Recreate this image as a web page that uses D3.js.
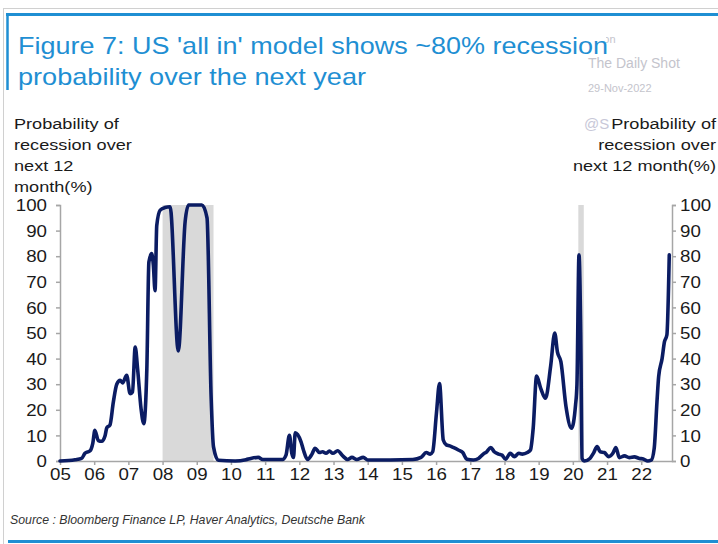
<!DOCTYPE html>
<html>
<head>
<meta charset="utf-8">
<script src="https://cdn.jsdelivr.net/npm/d3@7/dist/d3.min.js"></script>
<style>
  html, body { margin: 0; padding: 0; background: #fff; }
  svg { display: block; }
  text { font-family: "Liberation Sans", Arial, Helvetica, sans-serif; }
</style>
</head>
<body>
<script>
// Model output: decimal year and recession probability (%)
const dates = [
  2005.00, 2005.44, 2005.63, 2005.73, 2005.88, 2005.96, 2006.02, 2006.12, 2006.22, 2006.32,
  2006.37, 2006.46, 2006.56, 2006.66, 2006.76, 2006.83, 2006.95, 2007.05, 2007.12, 2007.20,
  2007.27, 2007.37, 2007.45, 2007.54, 2007.60, 2007.68, 2007.73, 2007.78, 2007.83, 2007.93,
  2008.07, 2008.22, 2008.46, 2008.66, 2008.76, 2009.15, 2009.30, 2009.42, 2009.49, 2009.63,
  2010.12, 2010.44, 2010.58, 2010.80, 2010.93, 2011.51, 2011.61, 2011.71, 2011.78, 2011.83,
  2011.88, 2012.05, 2012.12, 2012.24, 2012.37, 2012.46, 2012.59, 2012.68, 2012.78, 2012.88,
  2012.98, 2013.12, 2013.27, 2013.41, 2013.54, 2013.68, 2013.87, 2014.00, 2015.32, 2015.56,
  2015.71, 2015.83, 2015.90, 2016.01, 2016.10, 2016.21, 2016.30, 2016.40, 2016.50, 2016.65,
  2016.78, 2016.90, 2017.09, 2017.24, 2017.38, 2017.48, 2017.60, 2017.70, 2017.83, 2017.93,
  2018.03, 2018.17, 2018.29, 2018.42, 2018.52, 2018.67, 2018.76, 2018.84, 2018.94, 2019.06,
  2019.20, 2019.35, 2019.47, 2019.55, 2019.65, 2019.80, 2019.96, 2020.08, 2020.12, 2020.18,
  2020.23, 2020.27, 2020.34, 2020.50, 2020.60, 2020.71, 2020.80, 2020.92, 2021.05, 2021.17,
  2021.26, 2021.36, 2021.51, 2021.65, 2021.80, 2021.95, 2022.06, 2022.19, 2022.29, 2022.38,
  2022.46, 2022.51, 2022.61, 2022.68, 2022.75, 2022.82
];
const probability = [
  0, 0.5, 1, 3, 4, 7, 12, 8, 7.7, 10,
  13, 14, 23, 30, 31.5, 30.5, 33.5, 26.3, 27, 44.5,
  36, 20.5, 14.6, 36, 77.7, 81, 76.5, 66.5, 92, 98,
  99, 99.3, 43, 93.5, 100, 100, 95, 25, 5.5, 0.3,
  0, 0.5, 1, 1.4, 0.6, 0.6, 2.3, 10, 3, 1.4,
  11, 7.5, 4.3, 0.6, 2.7, 5, 3.3, 3.6, 3, 3.9,
  3, 4, 2, 0.6, 1.4, 0.6, 1.4, 0.4, 0.6, 1.4,
  3.3, 2.7, 3.6, 18.6, 30.3, 8.2, 6.3, 5.9, 5.3, 4.3,
  3.3, 0.7, 0.4, 1, 2.7, 3.6, 5.3, 3.6, 2.7, 2.3,
  0.7, 3, 1.7, 3, 2.7, 3.3, 4.3, 12.8, 33.2, 28.4,
  24.5, 37, 50, 42.5, 38.8, 21.2, 12.8, 22, 30, 80.5,
  50.5, 1, 0, 1, 3, 5.6, 3.6, 3.3, 1.7, 3,
  5.3, 1.3, 2, 1.3, 1.6, 1, 0.8, 0, 0.3, 5,
  23, 33, 40, 46.6, 49.2, 80.5
];

// US recessions (NBER), decimal years
const recessionStart = [2008.00, 2020.16];
const recessionEnd   = [2009.49, 2020.32];

const yearTicks  = d3.range(2005, 2023);
const yearLabels = ["05","06","07","08","09","10","11","12","13","14","15","16","17","18","19","20","21","22"];
const yTicks = [0, 10, 20, 30, 40, 50, 60, 70, 80, 90, 100];

const titleLines = ["Figure 7: US 'all in' model shows ~80% recession", "probability over the next year"];
const leftAxisTitle  = ["Probability of", "recession over", "next 12", "month(%)"];
const rightAxisTitle = ["Probability of", "recession over", "next 12 month(%)"];
const sourceText = "Source : Bloomberg Finance LP, Haver Analytics, Deutsche Bank";

const W = 718, H = 544;
const STRETCH = 1.17; // horizontal stretch of the typeface
const BLUE = "#1f8fd3", NAVY = "#0b1c63", AXIS = "#a6a6a6", INK = "#1a1a1a";

const svg = d3.select("body").append("svg").attr("width", W).attr("height", H);

// frame
svg.append("rect").attr("x", 3.5).attr("y", 8.5).attr("width", W).attr("height", H)
  .attr("fill", "none").attr("stroke", "#d0d0d0").attr("stroke-width", 1);
svg.append("line").attr("x1", 6).attr("x2", W).attr("y1", 14.5).attr("y2", 14.5)
  .attr("stroke", BLUE).attr("stroke-width", 3);
svg.append("line").attr("x1", 7.5).attr("x2", 7.5).attr("y1", 13).attr("y2", 90)
  .attr("stroke", BLUE).attr("stroke-width", 2.5);
svg.append("line").attr("x1", 8).attr("x2", W).attr("y1", 541.5).attr("y2", 541.5)
  .attr("stroke", BLUE).attr("stroke-width", 3);

// watermark
const wm = svg.append("g").attr("fill", "#c4c4cc");
wm.append("text").attr("x", 566).attr("y", 43).attr("font-size", 11).text("Posted on");
wm.append("text").attr("x", 588).attr("y", 68).attr("font-size", 14).text("The Daily Shot");
wm.append("text").attr("x", 588).attr("y", 92).attr("font-size", 11).text("29-Nov-2022");
wm.append("text").attr("x", 584).attr("y", 129).attr("font-size", 15).attr("fill", "#c8c8d8").text("@S");

// title block sits on a white panel over the watermark
svg.append("rect").attr("x", 14).attr("y", 30).attr("width", 592).attr("height", 27).attr("fill", "#fff");
svg.append("g").attr("fill", BLUE).selectAll("text").data(titleLines).join("text")
  .attr("x", 18).attr("y", (d, i) => 54 + i * 31)
  .attr("font-size", 24)
  .attr("textLength", (d, i) => i === 0 ? 590 : 348)
  .attr("lengthAdjust", "spacingAndGlyphs")
  .text(d => d);

// scales
const x = d3.scaleLinear().domain([2005, 2022.9]).range([60, 672]);
const y = d3.scaleLinear().domain([0, 100]).range([461, 205]);

// recession shading
svg.append("g").selectAll("rect").data(recessionStart).join("rect")
  .attr("x", d => x(d))
  .attr("width", (d, i) => x(recessionEnd[i]) - x(d))
  .attr("y", y(100)).attr("height", y(0) - y(100))
  .attr("fill", "#d9d9d9");

// stretch tick text horizontally around its anchor
function stretchText(sel) {
  sel.selectAll(".tick text").each(function () {
    const t = d3.select(this);
    const x0 = +(t.attr("x") || 0);
    t.attr("x", x0 / STRETCH).attr("transform", `scale(${STRETCH},1)`);
  });
}

function styleAxis(g) {
  g.selectAll("path, line").attr("stroke", AXIS).attr("stroke-width", 1.5);
  g.selectAll("text").attr("fill", INK).attr("font-size", 16)
    .attr("font-family", '"Liberation Sans", Arial, sans-serif');
}

const yLeft = svg.append("g").attr("transform", `translate(${x(2005)},0)`)
  .call(d3.axisLeft(y).tickValues(yTicks).tickSize(4).tickSizeOuter(4).tickPadding(9));
styleAxis(yLeft); stretchText(yLeft);
yLeft.selectAll(".tick text").attr("dy", "0.36em");

const yRight = svg.append("g").attr("transform", `translate(${x(2022.9)},0)`)
  .call(d3.axisRight(y).tickValues(yTicks).tickSize(4).tickSizeOuter(4).tickPadding(4));
styleAxis(yRight); stretchText(yRight);
yRight.selectAll(".tick text").attr("dy", "0.36em");

const xAxis = svg.append("g").attr("transform", `translate(0,${y(0)})`)
  .call(d3.axisBottom(x).tickValues(yearTicks).tickFormat((d, i) => yearLabels[i])
    .tickSize(4).tickSizeOuter(0).tickPadding(4));
styleAxis(xAxis); stretchText(xAxis);
xAxis.selectAll(".tick text").attr("dy", "0.71em");

// series
const series = dates.map((d, i) => ({ t: d, v: probability[i] }));
svg.append("path").datum(series)
  .attr("fill", "none").attr("stroke", NAVY).attr("stroke-width", 3.6)
  .attr("stroke-linejoin", "round").attr("stroke-linecap", "round")
  .attr("d", d3.line().x(d => x(d.t)).y(d => y(d.v)).curve(d3.curveMonotoneX));

// axis titles
svg.append("g").attr("fill", INK).selectAll("text").data(leftAxisTitle).join("text")
  .attr("transform", (d, i) => `translate(14,${129 + i * 21}) scale(${STRETCH},1)`)
  .attr("font-size", 15.5).text(d => d);

svg.append("g").attr("fill", INK).selectAll("text").data(rightAxisTitle).join("text")
  .attr("transform", (d, i) => `translate(716,${129 + i * 21}) scale(${STRETCH},1)`)
  .attr("text-anchor", "end").attr("font-size", 15.5).text(d => d);

// source note
svg.append("text").attr("x", 10).attr("y", 524)
  .attr("font-size", 13).attr("font-style", "italic").attr("fill", "#333")
  .attr("textLength", 355).attr("lengthAdjust", "spacingAndGlyphs")
  .text(sourceText);
</script>
</body>
</html>
